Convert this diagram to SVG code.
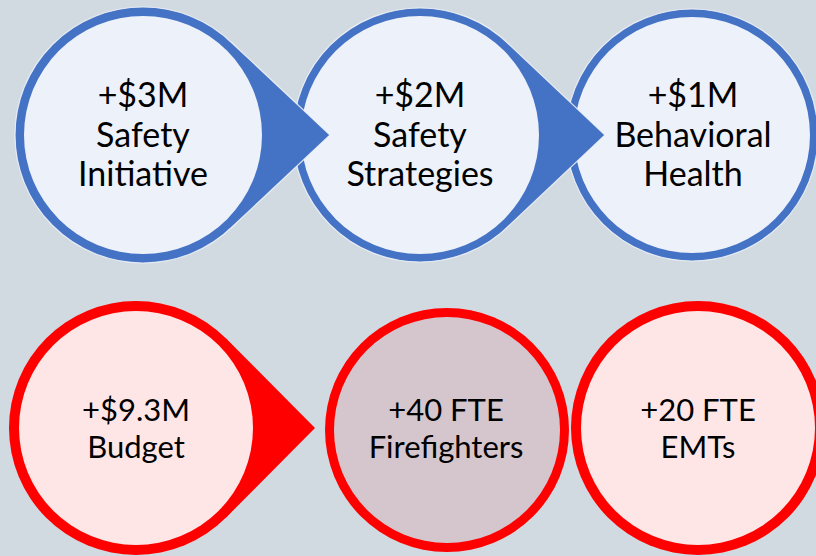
<svg xmlns="http://www.w3.org/2000/svg" width="816" height="556" viewBox="0 0 816 556">
  <style>
    .bg { fill: #d2dae1; }
    .ring-blue { fill: #4472c4; stroke: #f3f6fa; stroke-width: 1.2; stroke-opacity: 0.85; }
    .core-blue { fill: #edf1fa; }
    .ring-red { fill: #ff0000; }
    .core-red { fill: #ffe6e6; }
    .core-mauve { fill: #d5c5cc; }
    .arrow-blue { fill: #4472c4; }
    .arrow-red { fill: #ff0000; }
    .edge-blue { fill: none; stroke: #f3f6fa; stroke-width: 1.2; stroke-opacity: 0.85; stroke-linejoin: miter; }
    .label { font-family: Lato, "Open Sans", "Liberation Sans", sans-serif; fill: #000; text-anchor: middle; }
    .top { font-size: 34px; }
    .bottom { font-size: 31px; }
  </style>

  <rect class="bg" x="0" y="0" width="816" height="556"/>

  <!-- Upper row: drawn right to left so each pointer sits over its neighbour -->
  <g id="behavioral-health">
    <circle class="ring-blue" cx="692" cy="135" r="126"/>
    <circle class="core-blue" cx="692" cy="135" r="118"/>
    <text class="label top" x="693" y="107">+$1M</text>
    <text class="label top" x="693" y="147">Behavioral</text>
    <text class="label top" x="693" y="186">Health</text>
  </g>

  <g id="safety-strategies">
    <circle class="ring-blue" cx="420" cy="135" r="127"/>
    <circle class="core-blue" cx="420" cy="135" r="119"/>
    <text class="label top" x="420" y="107">+$2M</text>
    <text class="label top" x="420" y="147">Safety</text>
    <text class="label top" x="420" y="186">Strategies</text>
  </g>

  <g id="safety-initiative">
    <circle class="ring-blue" cx="143" cy="135" r="128"/>
    <circle class="core-blue" cx="143" cy="135" r="119"/>
    <text class="label top" x="143" y="107">+$3M</text>
    <text class="label top" x="143" y="147">Safety</text>
    <text class="label top" x="143" y="186">Initiative</text>
  </g>

  <!-- Lower row -->
  <g id="emts">
    <circle class="ring-red" cx="698" cy="428" r="127"/>
    <circle class="core-red" cx="698" cy="428" r="117"/>
    <text class="label bottom" x="698" y="421">+20 FTE</text>
    <text class="label bottom" x="698" y="458">EMTs</text>
  </g>

  <g id="firefighters">
    <circle class="ring-red" cx="447" cy="430" r="122"/>
    <circle class="core-mauve" cx="447" cy="430" r="113"/>
    <text class="label bottom" x="446" y="421">+40 FTE</text>
    <text class="label bottom" x="446" y="458">Firefighters</text>
  </g>

  <g id="budget">
    <circle class="ring-red" cx="136" cy="428" r="127"/>
    <circle class="core-red" cx="136" cy="428" r="117"/>
    <text class="label bottom" x="136" y="421">+$9.3M</text>
    <text class="label bottom" x="136" y="458">Budget</text>
  </g>

  <!-- Pointers: tangent wedges growing out of each ring -->
  <g id="connectors">
    <path class="arrow-blue" d="M330,135 L230.6,41.7 L227.2,45.3 A123,123 0 0 1 227.2,224.7 L230.6,228.3 Z"/>
    <path class="edge-blue" d="M230.6,41.7 L330,135 L230.6,228.3"/>
    <path class="arrow-blue" d="M605,135 L507.2,42.7 L503.8,46.3 A122,122 0 0 1 503.8,223.7 L507.2,227.3 Z"/>
    <path class="edge-blue" d="M507.2,42.7 L605,135 L507.2,227.3"/>
    <path class="arrow-red" d="M315,428 L226.1,338.5 L221.8,342.7 A121,121 0 0 1 221.8,513.3 L226.1,517.5 Z"/>
  </g>
</svg>
